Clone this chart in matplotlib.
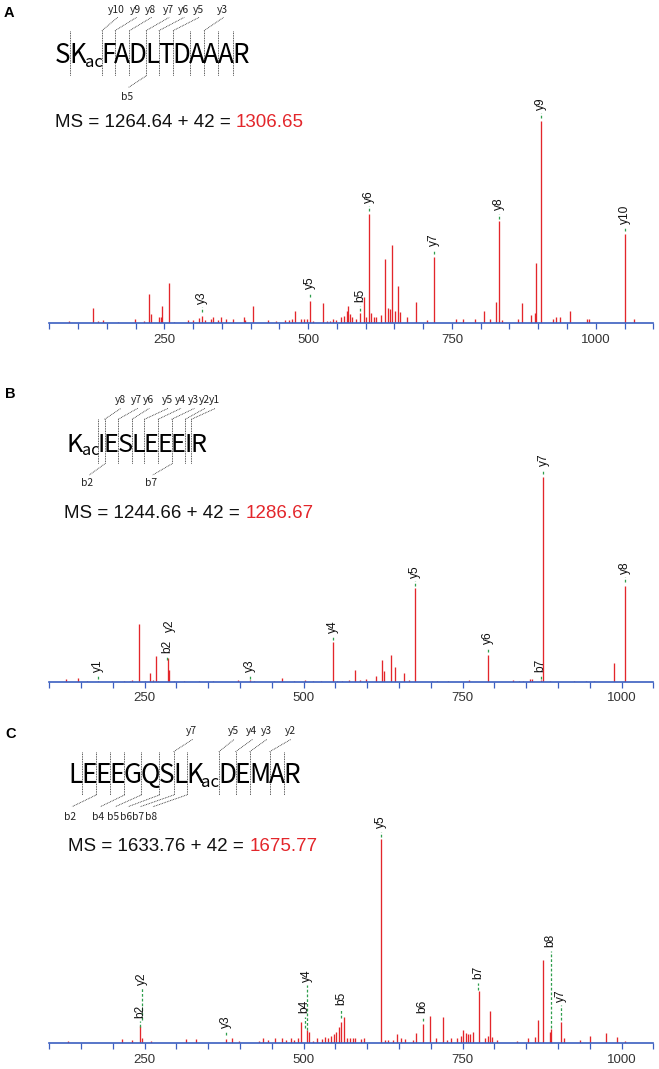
import matplotlib
matplotlib.use("Agg")
import matplotlib.pyplot as plt
from matplotlib.font_manager import FontProperties, findfont
import numpy as np

# ---------------- DATA ----------------
# Panel A : SK(ac)FADLTDAAAR
a_pre, a_post = "SK", "FADLTDAAAR"
a_ms = ("1264.64", "42", "1306.65")
a_yfrags = ["y10", "y9", "y8", "y7", "y6", "y5", "y3"]
a_bfrags = ["b5"]
a_mz = [83.4, 126.0, 135.0, 143.9, 169.3, 198.8, 214.0, 223.6, 227.0, 240.0, 243.5, 246.2, 257.9, 267.5,
        291.6, 300.5, 310.1, 315.6, 321.1, 330.7, 334.1, 343.1, 347.9, 356.8, 369.2, 387.7, 389.8, 404.9,
        430.3, 444.7, 459.8, 466.7, 471.5, 477.0, 487.3, 492.1, 497.6, 503.8, 507.9, 526.4, 531.9, 538.8,
        543.6, 549.1, 557.3, 562.8, 567.0, 569.7, 573.1, 576.6, 583.4, 590.3, 597.2, 601.3, 605.4, 609.5,
        614.4, 617.8, 626.0, 633.6, 638.4, 642.5, 646.6, 650.7, 656.2, 660.4, 672.0, 687.8, 706.4, 718.7,
        756.5, 768.9, 789.5, 806.0, 815.6, 825.9, 832.1, 836.2, 865.0, 871.9, 887.7, 893.9, 896.6, 904.9,
        924.8, 930.3, 937.1, 955.7, 985.2, 988.7, 1051.2, 1065.6]
a_int = [1.0, 7.6, 1.0, 1.6, 0.5, 2.1, 1.0, 14.5, 4.6, 3.3, 3.3, 8.3, 19.8, 0.5,
         1.6, 1.6, 2.6, 3.8, 1.6, 2.1, 3.3, 1.6, 3.3, 2.1, 2.1, 3.3, 1.6, 8.3,
         1.6, 1.3, 1.6, 1.6, 2.1, 6.3, 2.1, 2.1, 2.1, 11.2, 1.3, 9.9, 1.3, 1.3,
         2.1, 1.6, 3.3, 3.8, 6.3, 8.7, 4.6, 3.0, 2.1, 5.3, 12.9, 3.0, 54.1, 5.1,
         3.0, 3.0, 4.3, 31.5, 7.6, 7.1, 38.6, 5.9, 18.6, 5.4, 3.0, 10.6, 1.6, 32.7,
         2.1, 2.1, 2.1, 5.9, 2.1, 10.4, 50.3, 1.6, 2.1, 9.9, 4.1, 5.3, 29.9, 100.0,
         2.3, 3.3, 3.3, 6.3, 2.1, 2.1, 43.9, 2.1]
a_ann_lab = ["y3", "y5", "b5", "y6", "y7", "y8", "y9", "y10"]
a_ann_mz = [315.6, 503.8, 590.3, 605.4, 718.7, 832.1, 904.9, 1051.2]
a_ann_lo = [5.8, 12.9, 6.3, 55.4, 34.0, 51.7, 101.2, 45.4]
a_ann_hi = [7.9, 15.0, 8.6, 57.8, 36.3, 54.0, 103.6, 47.5]

# Panel B : K(ac)IESLEEEIR
b_pre, b_post = "K", "IESLEEEIR"
b_ms = ("1244.66", "42", "1286.67")
b_yfrags = ["y8", "y7", "y6", "y5", "y4", "y3", "y2", "y1"]
b_bfrags = ["b2", "b7"]
b_mz = [127.0, 144.4, 159.9, 176.7, 198.4, 217.0, 226.3, 229.5, 241.3, 251.2, 258.0, 263.6, 268.6, 271.0,
        286.0, 289.0, 295.9, 311.4, 335.0, 358.0, 397.2, 416.4, 422.0, 453.0, 466.7, 484.1, 501.5, 515.2,
        527.6, 546.8, 552.4, 559.9, 571.1, 580.4, 588.5, 597.8, 614.5, 623.2, 627.0, 636.9, 644.4, 658.6,
        666.1, 675.4, 701.5, 709.6, 726.4, 760.5, 789.7, 828.8, 838.1, 844.3, 856.8, 859.2, 872.9, 877.3,
        887.8, 925.1, 943.7, 956.2, 987.8, 1005.8]
b_int = [1.6, 2.1, 0.5, 0.5, 0.3, 0.5, 0.5, 0.8, 28.2, 0.5, 4.6, 0.8, 12.6, 0.5,
         11.5, 6.0, 0.5, 0.5, 0.5, 0.5, 0.8, 0.8, 0.5, 0.5, 2.1, 0.5, 1.1, 0.5,
         0.5, 19.6, 0.5, 0.5, 1.0, 5.9, 1.1, 1.5, 2.8, 10.8, 5.4, 13.2, 7.3, 4.6,
         0.8, 45.8, 0.5, 0.5, 0.5, 0.8, 13.2, 0.8, 0.5, 0.5, 1.5, 1.3, 0.8, 100.0,
         0.5, 0.5, 0.5, 0.5, 9.3, 47.0]
b_ann_lab = ["y1", "b2", "y2", "y3", "y4", "y5", "y6", "b7", "y7", "y8"]
b_ann_mz = [176.7, 285.0, 289.5, 416.4, 546.8, 675.4, 789.7, 872.9, 877.3, 1005.8]
b_ann_lo = [1.3, 10.5, 22.5, 1.3, 20.4, 47.0, 14.7, 1.3, 101.3, 48.6]
b_ann_hi = [3.4, 12.2, 22.5, 3.4, 22.3, 49.1, 16.8, 3.4, 103.3, 51.0]

# Panel C : LEEEGQSLK(ac)DEMAR
c_pre, c_post = "LEEEGQSLK", "DEMAR"
c_ms = ("1633.76", "42", "1675.77")
c_yfrags = ["y7", "y5", "y4", "y3", "y2"]
c_bfrags = ["b2", "b4", "b5", "b6", "b7", "b8"]
c_mz = [128.8, 213.9, 230.7, 243.1, 246.2, 259.3, 315.2, 330.1, 377.3, 387.8, 398.4, 429.4, 435.7, 444.4,
        454.3, 466.7, 471.7, 479.8, 484.1, 491.6, 496.5, 505.8, 507.7, 515.2, 521.4, 528.8, 533.8, 538.1,
        543.1, 548.1, 551.2, 555.5, 558.6, 563.6, 568.0, 573.0, 577.3, 581.6, 589.7, 594.7, 622.0, 628.2,
        633.2, 641.2, 647.5, 653.1, 659.2, 672.3, 676.6, 687.2, 698.4, 707.7, 718.9, 726.3, 732.5, 741.9,
        748.1, 751.2, 754.9, 758.6, 762.4, 766.7, 776.0, 784.7, 790.3, 793.4, 795.9, 804.0, 835.0, 853.7,
        864.2, 869.2, 877.3, 887.8, 889.7, 905.2, 909.6, 934.4, 949.9, 976.0, 993.4, 1005.8]
c_int = [1.1, 2.1, 1.6, 8.4, 2.4, 1.1, 2.1, 2.1, 2.1, 2.4, 1.1, 1.1, 2.4, 1.6,
         2.4, 2.8, 1.6, 2.4, 1.6, 2.4, 10.5, 6.5, 5.7, 1.1, 2.8, 2.1, 3.2, 2.4,
         3.7, 4.7, 5.7, 8.1, 10.2, 13.0, 2.8, 2.8, 2.8, 2.8, 2.1, 2.8, 100.0, 1.6,
         1.6, 1.6, 4.5, 2.4, 2.1, 1.6, 5.2, 9.4, 13.5, 2.4, 12.8, 1.6, 2.4, 2.8,
         3.7, 6.5, 4.9, 4.4, 4.4, 5.7, 25.4, 2.8, 3.7, 15.9, 3.2, 1.6, 1.1, 2.8,
         3.2, 11.5, 40.7, 5.7, 7.0, 10.5, 2.8, 1.6, 3.7, 5.2, 3.1, 1.1]
c_ann_lab = ["b2", "y2", "y3", "b4", "y4", "b5", "y5", "b6", "b7", "b8", "y7"]
c_ann_mz = [243.1, 245.8, 377.3, 501.5, 505.8, 558.6, 622.0, 687.2, 775.0, 888.4, 905.2]
c_ann_lo = [8.1, 11.5, 4.0, 7.3, 6.5, 12.2, 101.0, 10.9, 26.0, 7.3, 11.3]
c_ann_hi = [10.9, 27.0, 6.0, 13.0, 28.4, 17.0, 103.7, 13.0, 29.7, 45.4, 18.6]

tick_labels = ["250", "500", "750", "1000"]
panel_letters = ["A", "B", "C"]

# ---------------- STYLE / LAYOUT ----------------
W, H = 659, 1069
RED = "#e3262b"
GREEN = "#2f9e4c"
BLUE = "#3b5fc0"
ARIAL = "Liberation Sans"
SEQ_FONT = "Lato"
for cand in ("Noto Sans CJK SC", "Lato"):
    try:
        findfont(FontProperties(family=cand), fallback_to_default=False)
        SEQ_FONT = cand
        break
    except Exception:
        pass
LAB_FONT = SEQ_FONT
plt.rcParams["font.family"] = [ARIAL, "DejaVu Sans"]

fig = plt.figure(figsize=(W / 100, H / 100), dpi=100)
fig.patch.set_facecolor("white")
renderer = fig.canvas.get_renderer()

ov = fig.add_axes([0, 0, 1, 1])
ov.set_xlim(0, W)
ov.set_ylim(H, 0)
ov.axis("off")
ov.set_facecolor("none")


def tw(s, fp):
    w, h, d = renderer.get_text_width_height_descent(s, fp, ismath=False)
    return w


def draw_peptide(pre, post, x0, base, target_w, ltop, lbot, yfr, yidx, ylx, ylab_y, ydiag_y,
                 bfr, bidx, blx, blab_y, bdiag_y):
    sub_ratio = 0.64
    items = [(c, False) for c in pre] + [("ac", True)] + [(c, False) for c in post]

    def measure(size):
        fp = FontProperties(family=SEQ_FONT, size=size)
        fps = FontProperties(family=SEQ_FONT, size=size * sub_ratio)
        gap = -0.05 * size * 100 / 72
        widths = [tw(t, fps if s else fp) for t, s in items]
        total = sum(widths) + gap * (len(items) - 1)
        return fp, fps, gap, widths, total

    t0 = measure(100)[4]
    size = 100 * target_w / t0
    size *= target_w / measure(size)[4]
    fp, fps, gap, widths, total = measure(size)
    em = size * 100 / 72

    x = x0
    ends = []
    for (t, s), w in zip(items, widths):
        if s:
            ov.text(x, base + 0.15 * em, t, fontproperties=fps, ha="left", va="baseline", color="black")
        else:
            ov.text(x, base, t, fontproperties=fp, ha="left", va="baseline", color="black")
        ends.append(x + w)
        x = x + w + gap
    bounds = []
    for i in range(len(items) - 1):
        if items[i + 1][1]:
            continue
        bounds.append(ends[i] + gap / 2)

    ls = (0, (1.0, 1.0))
    for b in bounds:
        ov.plot([b, b], [ltop, lbot], color="#222222", lw=0.6, linestyle=ls)
    fsz = 7.4
    for lab, i, lx in zip(yfr, yidx, ylx):
        b = bounds[i - 1]
        ov.plot([b, lx + 1], [ltop, ydiag_y], color="#222222", lw=0.6, linestyle=ls)
        ov.text(lx, ylab_y, lab, family=LAB_FONT, fontsize=fsz, ha="center", va="center", color="#222222")
    for lab, i, lx in zip(bfr, bidx, blx):
        b = bounds[i - 1]
        ov.plot([b, lx + 2], [lbot, bdiag_y], color="#222222", lw=0.6, linestyle=ls)
        ov.text(lx, blab_y, lab, family=LAB_FONT, fontsize=fsz, ha="center", va="center", color="#222222")


def draw_ms(ms, x0, base):
    fp = FontProperties(family=ARIAL, size=13.5)
    black = "MS = %s + %s = " % (ms[0], ms[1])
    red = ms[2]
    ov.text(x0, base, black, fontproperties=fp, ha="left", va="baseline", color="#111111")
    xr = x0 + tw(black + red, fp) - tw(red, fp)
    ov.text(xr, base, red, fontproperties=fp, ha="left", va="baseline", color=RED)


def draw_spectrum(base_px, ppu, xlim, mz, inten, alab, amz, alo, ahi):
    top_h = 232
    ax = fig.add_axes([49.3 / W, 1 - base_px / H, 604 / W, top_h / H])
    ax.set_facecolor("none")
    ax.set_xlim(*xlim)
    ax.set_ylim(0, top_h / ppu)
    ax.vlines(mz, 0, inten, colors=RED, lw=0.95)
    for lab, x, lo, hi in zip(alab, amz, alo, ahi):
        if hi > lo:
            ax.vlines(x, lo, hi, colors=GREEN, lw=0.9, linestyles=(0, (2.2, 1.6)))
        ax.annotate(lab, xy=(x, hi), xytext=(0, 2.5), textcoords="offset points", rotation=90,
                    ha="center", va="bottom", fontsize=8.6, family=ARIAL, color="#111111",
                    annotation_clip=False)
    for s in ("left", "right", "top"):
        ax.spines[s].set_visible(False)
    ax.spines["bottom"].set_color(BLUE)
    ax.spines["bottom"].set_linewidth(1.2)
    ticks = np.arange(xlim[0], xlim[1] + 1, 50)
    ax.set_xticks(ticks)
    ax.set_xticklabels([str(int(t)) if str(int(t)) in tick_labels else "" for t in ticks])
    ax.tick_params(axis="x", direction="out", length=4.4, width=0.9, color=BLUE, pad=3,
                   labelsize=9.5, labelcolor="#333333")
    ax.yaxis.set_visible(False)
    return ax


# Panel letters
for letter, (lx, ly) in zip(panel_letters, [(4, 17.3), (5, 398.3), (5, 738.3)]):
    ov.text(lx, ly, letter, family=ARIAL, fontsize=10.5, fontweight="bold", ha="left", va="baseline")

# Panel A
draw_peptide(a_pre, a_post, 55, 63.3, 194, 30.7, 76, a_yfrags, [2, 3, 4, 5, 6, 7, 9],
             [116.7, 135.7, 150.7, 168.3, 183.3, 198.3, 222.7], 10, 17.3,
             a_bfrags, [5], [126.7], 96.7, 87.3)
draw_ms(a_ms, 55, 127.3)
draw_spectrum(323.3, 2.026, (50, 1100), a_mz, a_int, a_ann_lab, a_ann_mz, a_ann_lo, a_ann_hi)

# Panel B
draw_peptide(b_pre, b_post, 66.7, 451.7, 140, 419.3, 464, b_yfrags, [2, 3, 4, 5, 6, 7, 8, 9],
             [120, 136.7, 148.3, 167.2, 180, 193.5, 204, 214.5], 400, 408.3,
             b_bfrags, [2, 7], [87.3, 150.7], 482.7, 475)
draw_ms(b_ms, 64.5, 518.4)
draw_spectrum(682, 2.053, (100, 1050), b_mz, b_int, b_ann_lab, b_ann_mz, b_ann_lo, b_ann_hi)

# Panel C
draw_peptide(c_pre, c_post, 68.3, 783.3, 232, 751.7, 795, c_yfrags, [7, 9, 10, 11, 12],
             [191.7, 233.3, 251.7, 266, 290], 730.7, 739.3,
             c_bfrags, [2, 4, 5, 6, 7, 8], [70, 98.3, 113.3, 126, 138.3, 151], 816.7, 806.7)
draw_ms(c_ms, 68.3, 850.7)
draw_spectrum(1043.3, 2.04, (100, 1050), c_mz, c_int, c_ann_lab, c_ann_mz, c_ann_lo, c_ann_hi)

fig.savefig("out.png", dpi=100, facecolor="white")
